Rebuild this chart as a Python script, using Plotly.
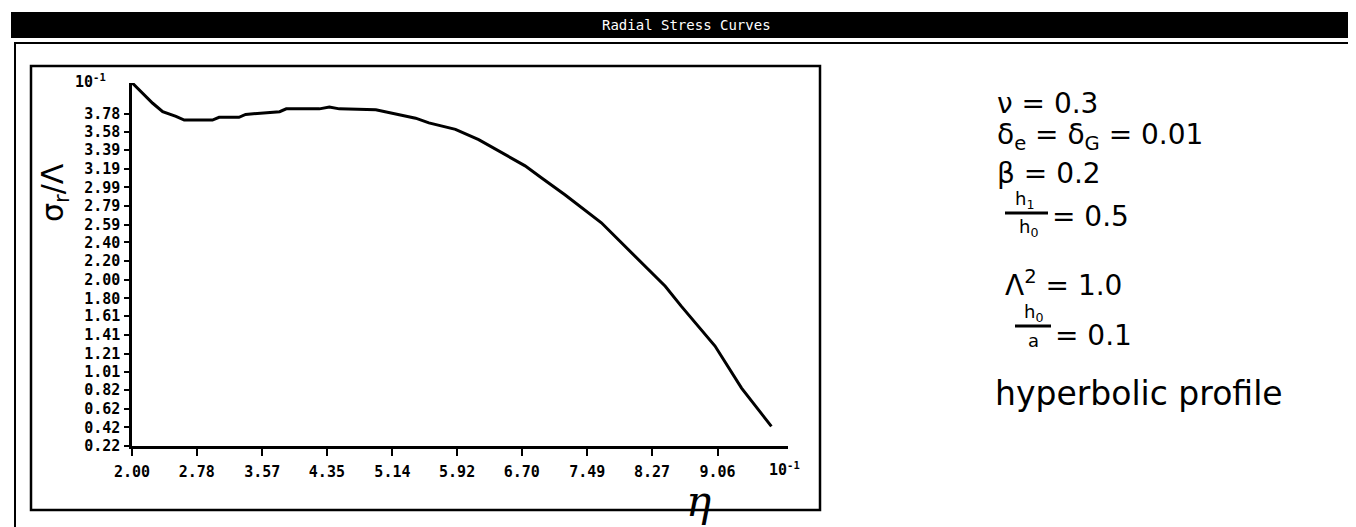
import plotly.graph_objects as go

# ---------------- data ----------------
eta = [2.00, 2.13, 2.25, 2.37, 2.53, 2.63, 2.97, 3.05, 3.29, 3.37, 3.78, 3.86,
       4.26, 4.38, 4.50, 4.94, 5.14, 5.42, 5.58, 5.90, 6.18, 6.46, 6.74, 6.94,
       7.22, 7.66, 8.14, 8.43, 8.62, 9.03, 9.35, 9.59, 9.71]
sigma = [4.11, 4.00, 3.89, 3.80, 3.75, 3.71, 3.71, 3.74, 3.74, 3.77, 3.80, 3.83,
         3.83, 3.85, 3.83, 3.82, 3.78, 3.73, 3.68, 3.61, 3.50, 3.36, 3.22, 3.09,
         2.91, 2.61, 2.18, 1.93, 1.72, 1.29, 0.84, 0.57, 0.43]

x_tick_labels = ["2.00", "2.78", "3.57", "4.35", "5.14", "5.92", "6.70",
                 "7.49", "8.27", "9.06"]
y_tick_labels = ["0.22", "0.42", "0.62", "0.82", "1.01", "1.21", "1.41",
                 "1.61", "1.80", "2.00", "2.20", "2.40", "2.59", "2.79",
                 "2.99", "3.19", "3.39", "3.58", "3.78"]

title_text = "Radial Stress Curves"
notes = ["ν = 0.3", "δ<sub>e</sub> = δ<sub>G</sub> = 0.01", "β = 0.2",
         "= 0.5", "Λ<sup>2</sup> = 1.0", "= 0.1", "hyperbolic profile"]

# ---------------- layout geometry ----------------
W, H = 1356, 527
L, R, T, B = 124, 576, 75, 89
PW, PH = W - L - R, H - T - B


def px(x):
    return (x - L) / PW


def py(y):
    return (H - B - y) / PH


fig = go.Figure()
fig.add_trace(go.Scatter(x=eta, y=sigma, mode="lines",
                         line=dict(color="black", width=3),
                         hoverinfo="skip", showlegend=False))

tickfont = dict(family="DejaVu Sans Mono", size=15, color="black", weight="bold")

fig.update_xaxes(range=[2.00, 9.91], showgrid=False, zeroline=False,
                 showline=True, linecolor="black", linewidth=2.5,
                 ticks="outside", ticklen=7, tickwidth=2, tickcolor="black",
                 tickvals=[float(v) for v in x_tick_labels],
                 ticktext=x_tick_labels, tickfont=tickfont,
                 ticklabelstandoff=3)
fig.update_yaxes(range=[0.22, 4.107], showgrid=False, zeroline=False,
                 showline=True, linecolor="black", linewidth=2.5,
                 ticks="outside", ticklen=5, tickwidth=2, tickcolor="black",
                 tickvals=[float(v) for v in y_tick_labels],
                 ticktext=y_tick_labels, tickfont=tickfont,
                 ticklabelstandoff=1)

shapes = [
    # title bar
    dict(type="rect", xref="paper", yref="paper", x0=px(3), x1=px(1353),
         y0=py(30), y1=py(4), fillcolor="black", line=dict(width=0), layer="below"),
    # outer frame
    dict(type="rect", xref="paper", yref="paper", x0=px(7), x1=px(1349),
         y0=py(521), y1=py(35), line=dict(color="black", width=2)),
    # inner graph box
    dict(type="rect", xref="paper", yref="paper", x0=px(23), x1=px(812),
         y0=py(502), y1=py(58), line=dict(color="black", width=2.5)),
    # fraction bars
    dict(type="line", xref="paper", yref="paper", x0=px(997), x1=px(1040),
         y0=py(205), y1=py(205), line=dict(color="black", width=3)),
    dict(type="line", xref="paper", yref="paper", x0=px(1007), x1=px(1043),
         y0=py(318), y1=py(318), line=dict(color="black", width=3)),
]

hand = dict(family="DejaVu Sans", color="black")
ann = []


def add(text, x, y, size, xanchor="left", font=None, angle=0, color="black",
        yanchor="middle"):
    f = dict(font or hand)
    f["size"] = size
    f["color"] = color
    ann.append(dict(text=text, x=px(x), y=py(y), xref="paper", yref="paper",
                    xanchor=xanchor, yanchor=yanchor, showarrow=False,
                    font=f, textangle=angle, borderpad=0))


add(title_text, 678, 17, 14, "center", dict(family="DejaVu Sans Mono"), color="white")
mono = dict(family="DejaVu Sans Mono", weight="bold")
add("10<sup>-1</sup>", 82, 73, 15, "center", mono)
add("10<sup>-1</sup>", 776, 461, 15, "center", mono)
add("σ<sub>r</sub>/Λ", 46, 185, 30, "center", angle=-90)
add("η", 690, 468, 42, "center", dict(family="DejaVu Serif", style="italic"),
    yanchor="top")

add(notes[0], 988, 95, 28)
add(notes[1], 988, 128, 28)
add(notes[2], 988, 165, 28)
add("h<sub>1</sub>", 1016, 192, 18, "center")
add("h<sub>0</sub>", 1020, 220, 18, "center")
add(notes[3], 1043, 209, 28)
add(notes[4], 996, 275, 28)
add("h<sub>0</sub>", 1025, 305, 18, "center")
add("a", 1025, 332, 18, "center")
add(notes[5], 1046, 327, 28)
add(notes[6], 986, 385, 33)

fig.update_layout(width=W, height=H, margin=dict(l=L, r=R, t=T, b=B),
                  plot_bgcolor="white", paper_bgcolor="white",
                  shapes=shapes, annotations=ann, showlegend=False)

fig.write_html("out.html")
